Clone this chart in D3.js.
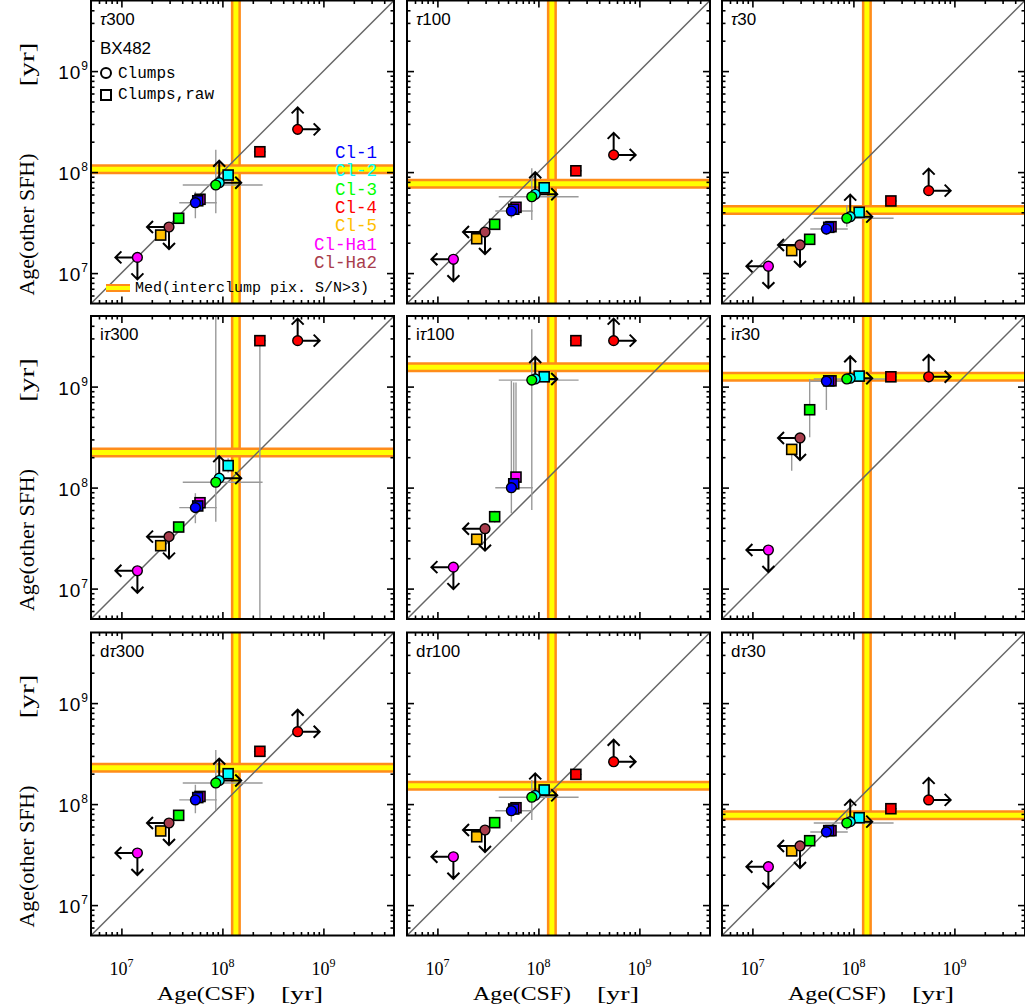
<!DOCTYPE html>
<html><head><meta charset="utf-8">
<script src="https://cdn.jsdelivr.net/npm/d3@7"></script>
<style>body{margin:0;background:#fff;} svg{display:block;}</style>
</head><body>
<svg id="c" width="1025" height="1008"></svg>
<script>
// ---------------- data ----------------
const clumps = ["Cl-1","Cl-2","Cl-3","Cl-4","Cl-5","Cl-Ha1","Cl-Ha2"];
const panelPrefix = ["","","","i","i","i","d","d","d"];
const panelTau = ["300","100","30","300","100","30","300","100","30"];
const galaxy = "BX482";
const tickValuesMajor = [1e7, 1e8, 1e9];
const tickExponents = ["7","8","9"];
const axisDomain = [5e6, 5e9];

// x: Age(CSF), shared by all panels
const ageCSFClumps = [5.4e7, 9.3e7, 8.6e7, 5.56e8, null, 1.44e7, 2.96e7];
const ageCSFRaw    = [5.7e7, 1.14e8, 3.69e7, 2.35e8, 2.45e7, 6.0e7, null];
const csfErrClumps = [[3.74e7,8.8e7], null, [4.05e7,2.5e8], null, null, null, null];
const csfErrRaw    = [null, [1.02e8,1.27e8], null, [2.05e8,2.7e8], null, null, null];
// limit flags for clumps (circles): "lo" = lower limit (up/right), "up" = upper limit (down/left)
const limitClumps = [null, "lo", null, "lo", null, "up", "up"];

// y: Age(other SFH), one array per panel
const ageOtherClumps = [
  [4.98e7, 7.85e7, 7.45e7, 2.65e8, null, 1.43e7, 2.86e7],
  [4.12e7, 6.03e7, 5.7e7, 1.48e8, null, 1.37e7, 2.55e7],
  [2.73e7, 3.62e7, 3.49e7, 6.55e7, null, 1.17e7, 1.9e7],
  [6.33e7, 1.24e8, 1.13e8, 2.85e9, null, 1.5e7, 3.27e7],
  [9.98e7, 1.19e9, 1.16e9, 2.85e9, null, 1.63e7, 3.92e7],
  [1.13e9, 1.21e9, 1.19e9, 1.25e9, null, 2.41e7, 3.1e8],
  [1.1e8, 1.71e8, 1.62e8, 5.21e8, null, 3.28e7, 6.5e7],
  [8.6e7, 1.22e8, 1.17e8, 2.63e8, null, 3.01e7, 5.54e7],
  [5.3e7, 6.7e7, 6.5e7, 1.1e8, null, 2.4e7, 3.85e7]
];
const ageOtherRaw = [
  [5.2e7, 9.35e7, 3.49e7, 1.59e8, 2.38e7, 5.38e7, null],
  [4.29e7, 7.0e7, 3.04e7, 1.03e8, 2.19e7, 4.48e7, null],
  [2.84e7, 4.0e7, 2.16e7, 5.18e7, 1.67e7, 2.88e7, null],
  [6.58e7, 1.65e8, 4.07e7, 2.85e9, 2.66e7, 7.08e7, null],
  [1.09e8, 1.25e9, 5.15e7, 2.85e9, 3.08e7, 1.27e8, null],
  [1.14e9, 1.27e9, 5.9e8, 1.25e9, 2.39e8, 1.14e9, null],
  [1.16e8, 2.0e8, 7.74e7, 3.33e8, 5.42e7, 1.19e8, null],
  [8.94e7, 1.38e8, 6.55e7, 1.97e8, 4.75e7, 9.2e7, null],
  [5.46e7, 7.33e7, 4.34e7, 9.0e7, 3.44e7, 5.46e7, null]
];
const otherErrClumps = [
  [[3.49e7,6.4e7], null, [3.91e7,1.66e8], null, null, null, null],
  [[3.49e7,4.9e7], null, [3.36e7,1.09e8], null, null, null, null],
  [[2.38e7,3.23e7], null, [2.88e7,4.72e7], null, null, null, null],
  [[4.44e7,8.8e7], null, [4.59e7,6e9], null, null, null, null],
  [[5.57e7,1.14e9], null, [6.0e7,3.69e9], null, null, null, null],
  [[5.87e8,1.2e9], null, [1.1e9,1.35e9], null, null, null, null],
  [[8.1e7,1.55e8], null, [8.75e7,3.44e8], null, null, null, null],
  [[6.7e7,1.02e8], null, [6.97e7,1.73e8], null, null, null, null],
  [[4.58e7,5.97e7], null, [5.55e7,8.1e7], null, null, null, null]
];
const otherErrRaw = [
  [null, null, null, null, null, null, null],
  [null, null, null, null, null, null, null],
  [null, null, null, null, null, null, null],
  [null, [1.4e8,1.95e8], null, [1e6,3.1e9], null, null, null],
  [[9.5e7,1.1e9], null, [4.5e7,5.9e7], null, null, [1.15e8,1.1e9], null],
  [null, null, [3.15e8,1.19e9], null, [1.47e8,2.6e8], null, null],
  [null, null, null, null, null, null, null],
  [null, null, null, null, null, null, null],
  [null, null, null, null, null, null, null]
];
// medians of interclump pixels
const medCSF = 1.36e8;
const medOther = [1.07e8, 7.67e7, 4.22e7, 2.23e8, 1.55e9, 1.25e9, 2.29e8, 1.52e8, 7.74e7];

// ---------------- style ----------------
const clumpColors = ["#0000ff","#00ffff","#00ff00","#ff0000","#ffc000","#ff00ff","#a83c4c"];
const colL = [91, 407, 722], rowT = [0.5, 316, 632.5], S = 303;

const svg = d3.select("#c");
const defs = svg.append("defs");
const minors = [];
for (let e = 6; e <= 9; e++) for (let m = 2; m <= 9; m++) {
  const v = m * Math.pow(10, e);
  if (v > axisDomain[0] * 1.0001 && v < axisDomain[1] * 0.9999) minors.push(v);
}

function arrow(gg, x0, y0, dx, dy) {
  const len = 22, h = 6;
  const x1 = x0 + dx * len, y1 = y0 + dy * len;
  const bx = -dx * h, by = -dy * h, px = -dy * h, py = dx * h;
  gg.append("path")
    .attr("d", `M${x0},${y0}L${x1},${y1}M${x1+bx+px},${y1+by+py}L${x1},${y1}L${x1+bx-px},${y1+by-py}`)
    .attr("fill", "none").attr("stroke", "#000").attr("stroke-width", 2);
}

for (let p = 0; p < 9; p++) {
  const r = Math.floor(p / 3), c = p % 3;
  const L = colL[c], T = rowT[r];
  const x = d3.scaleLog().domain(axisDomain).range([L, L + S]);
  const y = d3.scaleLog().domain(axisDomain).range([T + S, T]);
  const g = svg.append("g");
  defs.append("clipPath").attr("id", "clip" + p)
    .append("rect").attr("x", L).attr("y", T).attr("width", S).attr("height", S);
  const inner = g.append("g").attr("clip-path", `url(#clip${p})`);

  // median bands
  const bx = x(medCSF), by = y(medOther[p]);
  [["#ff8c1a", 10], ["#ffff00", 5]].forEach(([col, w]) => {
    inner.append("line").attr("x1", bx).attr("x2", bx).attr("y1", T).attr("y2", T + S)
      .attr("stroke", col).attr("stroke-width", w);
  });
  [["#ff8c1a", 10], ["#ffff00", 5]].forEach(([col, w]) => {
    inner.append("line").attr("x1", L).attr("x2", L + S).attr("y1", by).attr("y2", by)
      .attr("stroke", col).attr("stroke-width", w);
  });
  // one-to-one line
  inner.append("line")
    .attr("x1", x(axisDomain[0])).attr("y1", y(axisDomain[0]))
    .attr("x2", x(axisDomain[1])).attr("y2", y(axisDomain[1]))
    .attr("stroke", "#666").attr("stroke-width", 1.5);

  // error bars
  const eg = inner.append("g").attr("stroke", "#9a9a9a").attr("stroke-width", 1.4);
  clumps.forEach((name, i) => {
    const xv = ageCSFClumps[i], yv = ageOtherClumps[p][i];
    if (xv != null && yv != null) {
      if (csfErrClumps[i]) eg.append("line").attr("x1", x(csfErrClumps[i][0])).attr("x2", x(csfErrClumps[i][1])).attr("y1", y(yv)).attr("y2", y(yv));
      const ye = otherErrClumps[p][i];
      if (ye) eg.append("line").attr("x1", x(xv)).attr("x2", x(xv)).attr("y1", y(ye[0])).attr("y2", y(ye[1]));
    }
    const xr = ageCSFRaw[i], yr = ageOtherRaw[p][i];
    if (xr != null && yr != null) {
      if (csfErrRaw[i]) eg.append("line").attr("x1", x(csfErrRaw[i][0])).attr("x2", x(csfErrRaw[i][1])).attr("y1", y(yr)).attr("y2", y(yr));
      const ye = otherErrRaw[p][i];
      if (ye) eg.append("line").attr("x1", x(xr)).attr("x2", x(xr)).attr("y1", y(ye[0])).attr("y2", y(ye[1]));
    }
  });

  // limit arrows
  clumps.forEach((name, i) => {
    const xv = ageCSFClumps[i], yv = ageOtherClumps[p][i];
    if (xv == null || yv == null || !limitClumps[i]) return;
    if (limitClumps[i] === "lo") { arrow(inner, x(xv), y(yv), 0, -1); arrow(inner, x(xv), y(yv), 1, 0); }
    else { arrow(inner, x(xv), y(yv), 0, 1); arrow(inner, x(xv), y(yv), -1, 0); }
  });

  // raw squares
  const sqOrder = [5, 4, 3, 2, 1, 0];
  sqOrder.forEach(i => {
    const xr = ageCSFRaw[i], yr = ageOtherRaw[p][i];
    if (xr == null || yr == null) return;
    inner.append("rect").attr("x", x(xr) - 5).attr("y", y(yr) - 5).attr("width", 10).attr("height", 10)
      .attr("fill", clumpColors[i]).attr("stroke", "#000").attr("stroke-width", 1.6);
  });
  // clump circles
  clumps.forEach((name, i) => {
    const xv = ageCSFClumps[i], yv = ageOtherClumps[p][i];
    if (xv == null || yv == null) return;
    inner.append("circle").attr("cx", x(xv)).attr("cy", y(yv)).attr("r", 4.9)
      .attr("fill", clumpColors[i]).attr("stroke", "#000").attr("stroke-width", 1.4);
  });

  // axes (ticks inward on all four sides)
  const axes = [[d3.axisBottom, x, 0, T + S], [d3.axisTop, x, 0, T], [d3.axisLeft, y, L, 0], [d3.axisRight, y, L + S, 0]];
  axes.forEach(([fn, sc, tx, ty]) => {
    [[tickValuesMajor, 7], [minors, 3.5]].forEach(([vals, len]) => {
      const a = g.append("g").attr("transform", `translate(${tx},${ty})`)
        .call(fn(sc).tickValues(vals).tickSize(-len).tickFormat(""));
      a.select(".domain").remove();
      a.selectAll("line").attr("stroke", "#000").attr("stroke-width", 1.6);
    });
  });
  g.append("rect").attr("x", L).attr("y", T).attr("width", S).attr("height", S)
    .attr("fill", "none").attr("stroke", "#000").attr("stroke-width", 2);

  // panel label
  const lab = g.append("text").attr("x", L + 9).attr("y", T + 24)
    .attr("font-family", "Liberation Sans, Arial, sans-serif").attr("font-size", 17);
  if (panelPrefix[p]) lab.append("tspan").text(panelPrefix[p]);
  lab.append("tspan").attr("font-style", "italic").text("τ");
  lab.append("tspan").text(panelTau[p]);

  // y tick labels + title
  if (c === 0) {
    tickValuesMajor.forEach((v, k) => {
      const t = g.append("text").attr("x", 88).attr("y", y(v) + 8).attr("text-anchor", "end")
        .attr("font-family", "Liberation Sans, Arial, sans-serif").attr("font-size", 19);
      t.append("tspan").attr("letter-spacing", 1).text("10");
      t.append("tspan").attr("dy", -9).attr("font-size", 12).text(tickExponents[k]);
    });
    const yt = g.append("g").attr("transform", `translate(34,${T + 295}) rotate(-90)`)
      .attr("font-family", "Liberation Serif, Times New Roman, serif").attr("font-size", 20);
    yt.append("text").attr("x", 0).attr("y", 0).attr("textLength", 142).attr("lengthAdjust", "spacingAndGlyphs").text("Age(other SFH)");
    yt.append("text").attr("x", 209).attr("y", 0).attr("textLength", 44).attr("lengthAdjust", "spacingAndGlyphs").text("[yr]");
  }
  // x tick labels + title
  if (r === 2) {
    tickValuesMajor.forEach((v, k) => {
      const t = g.append("text").attr("x", x(v)).attr("y", 975).attr("text-anchor", "middle")
        .attr("font-family", "Liberation Serif, Times New Roman, serif").attr("font-size", 18);
      t.append("tspan").text("10");
      t.append("tspan").attr("dy", -8).attr("font-size", 12).text(tickExponents[k]);
    });
    const xt = g.append("g").attr("font-family", "Liberation Serif, Times New Roman, serif").attr("font-size", 19);
    xt.append("text").attr("x", L + 66).attr("y", 1000).attr("textLength", 98).attr("lengthAdjust", "spacingAndGlyphs").text("Age(CSF)");
    xt.append("text").attr("x", L + 190).attr("y", 1000).attr("textLength", 42).attr("lengthAdjust", "spacingAndGlyphs").text("[yr]");
  }

  // legend (first panel)
  if (p === 0) {
    const lg = g.append("g");
    lg.append("text").attr("x", L + 9).attr("y", T + 53).attr("font-family", "Liberation Sans, Arial, sans-serif")
      .attr("font-size", 17).text(galaxy);
    lg.append("circle").attr("cx", L + 15).attr("cy", T + 72.5).attr("r", 5)
      .attr("fill", "#fff").attr("stroke", "#000").attr("stroke-width", 2);
    lg.append("text").attr("x", L + 27).attr("y", T + 77).attr("font-family", "Liberation Mono, monospace")
      .attr("font-size", 16).text("Clumps");
    lg.append("rect").attr("x", L + 10).attr("y", T + 89.5).attr("width", 10).attr("height", 10)
      .attr("fill", "#fff").attr("stroke", "#000").attr("stroke-width", 2);
    lg.append("text").attr("x", L + 27).attr("y", T + 98).attr("font-family", "Liberation Mono, monospace")
      .attr("font-size", 16).text("Clumps,raw");
    clumps.forEach((name, i) => {
      lg.append("text").attr("x", L + 286).attr("y", T + 157.5 + i * 18.35).attr("text-anchor", "end")
        .attr("font-family", "Liberation Mono, monospace").attr("font-size", 17.5)
        .attr("fill", clumpColors[i]).text(name);
    });
    [["#ff8c1a", 8], ["#ffff00", 4]].forEach(([col, w]) => {
      lg.append("line").attr("x1", L + 15).attr("x2", L + 39).attr("y1", T + 287.5).attr("y2", T + 287.5)
        .attr("stroke", col).attr("stroke-width", w);
    });
    lg.append("text").attr("x", L + 44).attr("y", T + 291).attr("font-family", "Liberation Mono, monospace")
      .attr("font-size", 15).text("Med(interclump pix. S/N>3)");
  }
}
</script>
</body></html>
